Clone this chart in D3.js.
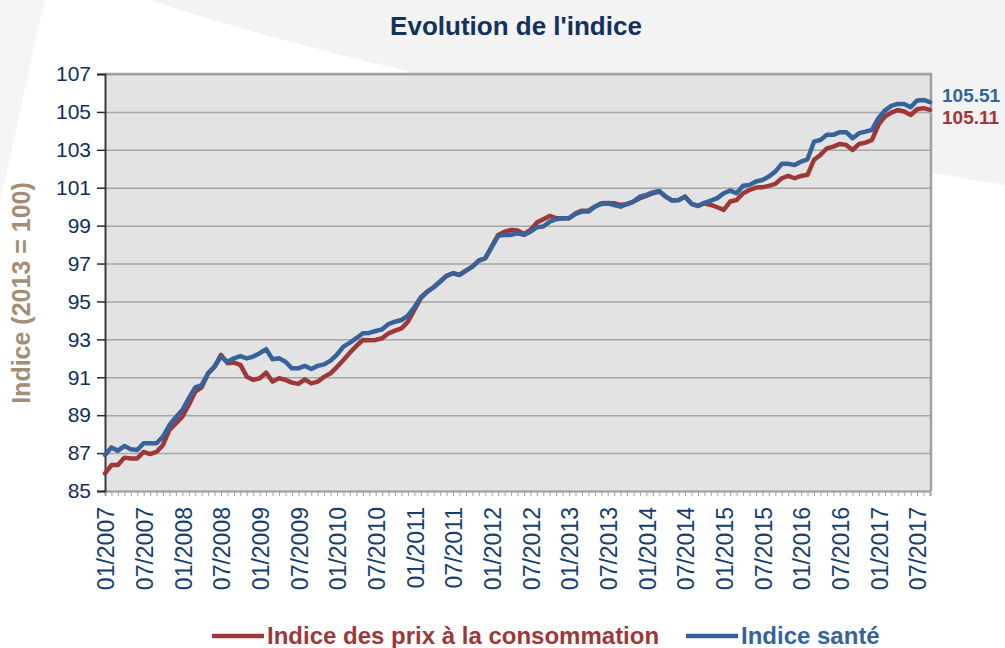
<!DOCTYPE html>
<html>
<head>
<meta charset="utf-8">
<script src="https://cdn.jsdelivr.net/npm/d3@7"></script>
<style>
  body { margin: 0; background: #ffffff; }
  svg { display: block; font-family: "Liberation Sans", Arial, sans-serif; }
</style>
</head>
<body>
<div id="chart"></div>
<script>
// données mensuelles 01/2007 -> 09/2017
const cpi = [85.93, 86.37, 86.37, 86.76, 86.72, 86.72, 87.06, 86.95, 87.06, 87.43, 88.22, 88.57,
  88.92, 89.54, 90.24, 90.47, 91.21, 91.56, 92.18, 91.74, 91.78, 91.65, 91.03, 90.86,
  90.95, 91.24, 90.77, 90.95, 90.86, 90.72, 90.65, 90.89, 90.68, 90.77, 91.02, 91.21,
  91.55, 91.91, 92.30, 92.65, 92.97, 92.95, 92.97, 93.06, 93.32, 93.46, 93.58, 93.93,
  94.55, 95.17, 95.52, 95.75, 96.05, 96.35, 96.49, 96.40, 96.63, 96.84, 97.15, 97.28,
  97.89, 98.51, 98.68, 98.77, 98.74, 98.56, 98.77, 99.16, 99.34, 99.51, 99.39, 99.39,
  99.39, 99.65, 99.79, 99.79, 100.00, 100.18, 100.20, 100.18, 100.09, 100.14, 100.27, 100.45,
  100.57, 100.71, 100.80, 100.53, 100.32, 100.35, 100.53, 100.15, 100.04, 100.18, 100.09, 99.97,
  99.83, 100.27, 100.35, 100.71, 100.88, 101.01, 101.02, 101.10, 101.20, 101.50, 101.62, 101.50,
  101.62, 101.68, 102.47, 102.73, 103.08, 103.17, 103.31, 103.26, 102.99, 103.31, 103.38, 103.52,
  104.31, 104.76, 104.96, 105.10, 105.02, 104.84, 105.14, 105.20, 105.11];

const sante = [86.90, 87.30, 87.13, 87.37, 87.20, 87.16, 87.52, 87.52, 87.52, 87.87, 88.48, 88.89,
  89.27, 89.89, 90.47, 90.59, 91.21, 91.56, 92.09, 91.82, 92.00, 92.12, 92.00, 92.09,
  92.27, 92.48, 91.95, 92.00, 91.82, 91.47, 91.47, 91.60, 91.44, 91.60, 91.68, 91.88,
  92.20, 92.62, 92.83, 93.06, 93.32, 93.34, 93.44, 93.53, 93.81, 93.93, 94.02, 94.25,
  94.69, 95.22, 95.52, 95.75, 96.05, 96.35, 96.49, 96.40, 96.63, 96.84, 97.15, 97.28,
  97.87, 98.46, 98.51, 98.51, 98.60, 98.51, 98.68, 98.91, 98.95, 99.21, 99.34, 99.39,
  99.39, 99.62, 99.74, 99.74, 100.00, 100.14, 100.18, 100.09, 100.00, 100.14, 100.27, 100.53,
  100.62, 100.75, 100.83, 100.53, 100.32, 100.35, 100.53, 100.15, 100.04, 100.20, 100.32, 100.45,
  100.71, 100.85, 100.71, 101.10, 101.15, 101.33, 101.41, 101.59, 101.85, 102.26, 102.26, 102.20,
  102.38, 102.50, 103.43, 103.52, 103.79, 103.79, 103.93, 103.93, 103.61, 103.88, 103.96, 104.05,
  104.67, 105.07, 105.32, 105.42, 105.42, 105.25, 105.60, 105.63, 105.51];

const xTickLabels = ["01/2007", "07/2007", "01/2008", "07/2008", "01/2009", "07/2009", "01/2010",
  "07/2010", "01/2011", "07/2011", "01/2012", "07/2012", "01/2013", "07/2013", "01/2014",
  "07/2014", "01/2015", "07/2015", "01/2016", "07/2016", "01/2017", "07/2017"];
const yTicks = [85, 87, 89, 91, 93, 95, 97, 99, 101, 103, 105, 107];
const seriesNames = ["Indice des prix à la consommation", "Indice santé"];

const W = 1005, H = 648;
const plot = { left: 105, right: 930, top: 74, bottom: 491 };
const red = "#9e3838", blue = "#36649a";

const svg = d3.select("#chart").append("svg").attr("width", W).attr("height", H);

// fond
svg.append("rect").attr("width", W).attr("height", H).attr("fill", "#ffffff");
svg.append("path")
  .attr("d", "M150,0 L1005,0 L1005,185 C800,150 420,90 150,0 Z")
  .attr("fill", "#f3f3f3");
svg.append("path")
  .attr("d", "M0,0 L45,0 C30,60 15,140 0,200 Z")
  .attr("fill", "#f5f5f5");

const x = d3.scaleLinear().domain([0, cpi.length - 1]).range([plot.left, plot.right]);
const y = d3.scaleLinear().domain([85, 107]).range([plot.bottom, plot.top]);

// zone du graphique
svg.append("rect")
  .attr("x", plot.left).attr("y", plot.top)
  .attr("width", plot.right - plot.left).attr("height", plot.bottom - plot.top)
  .attr("fill", "#e3e3e3");

// grille horizontale
svg.append("g")
  .attr("transform", `translate(${plot.left},0)`)
  .call(d3.axisLeft(y).tickValues(yTicks).tickSize(-(plot.right - plot.left)).tickFormat(""))
  .call(g => g.select(".domain").remove())
  .selectAll("line").attr("stroke", "#a6a6a6").attr("stroke-width", 1.5);

// bordure haut / droite
svg.append("path")
  .attr("d", `M${plot.left},${plot.top} H${plot.right + 1} V${plot.bottom}`)
  .attr("fill", "none").attr("stroke", "#a0a0a0").attr("stroke-width", 2.5);

// axe X : petites graduations mensuelles
svg.append("g")
  .attr("transform", `translate(0,${plot.bottom})`)
  .call(d3.axisBottom(x).tickValues(d3.range(0, cpi.length)).tickSize(5).tickFormat(""))
  .call(g => g.select(".domain").attr("stroke", "#a0a0a0").attr("stroke-width", 2))
  .selectAll("line").attr("stroke", "#a0a0a0");

// étiquettes X
svg.append("g")
  .selectAll("text")
  .data(xTickLabels)
  .enter()
  .append("text")
  .attr("transform", (d, i) => `translate(${x(i * 6) + 1},507) rotate(-90)`)
  .attr("text-anchor", "end")
  .attr("dy", "0.36em")
  .attr("font-size", 23)
  .attr("fill", "#163f6f")
  .text(d => d);

// axe Y
svg.append("g")
  .attr("transform", `translate(${plot.left},0)`)
  .call(d3.axisLeft(y).tickValues(yTicks).tickSize(8).tickPadding(6))
  .call(g => g.select(".domain").attr("stroke", "#3a3a3a").attr("stroke-width", 2))
  .call(g => g.selectAll("line").attr("stroke", "#2a2a2a").attr("stroke-width", 1.5))
  .call(g => g.selectAll("text").attr("font-size", 21).attr("fill", "#0f2f5c")
    .attr("font-family", "'Liberation Sans', Arial, sans-serif"));

// titre de l'axe Y
svg.append("text")
  .attr("transform", "translate(30,293) rotate(-90)")
  .attr("text-anchor", "middle")
  .attr("font-size", 25)
  .attr("font-weight", "bold")
  .attr("fill", "#a38e73")
  .text("Indice (2013 = 100)");

// titre
svg.append("text")
  .attr("x", 516).attr("y", 35)
  .attr("text-anchor", "middle")
  .attr("font-family", "'Liberation Sans Narrow', 'Arial Narrow', sans-serif")
  .attr("font-size", 26)
  .attr("font-weight", "bold")
  .attr("fill", "#12325e")
  .text("Evolution de l'indice");

// courbes
const line = d3.line().x((d, i) => x(i)).y(d => y(d));
[[cpi, red], [sante, blue]].forEach(([vals, col]) => {
  svg.append("path")
    .datum(vals)
    .attr("d", line)
    .attr("fill", "none")
    .attr("stroke", col)
    .attr("stroke-width", 4.5)
    .attr("stroke-linejoin", "round")
    .attr("stroke-linecap", "round");
});

// dernières valeurs
svg.append("text")
  .attr("x", 942).attr("y", 102)
  .attr("font-size", 19).attr("font-weight", "bold").attr("fill", blue)
  .text(d3.format(".2f")(sante[sante.length - 1]));
svg.append("text")
  .attr("x", 942).attr("y", 124)
  .attr("font-size", 19).attr("font-weight", "bold").attr("fill", red)
  .text(d3.format(".2f")(cpi[cpi.length - 1]));

// légende
const legend = [
  { name: seriesNames[0], color: red, x: 212 },
  { name: seriesNames[1], color: blue, x: 686 }
];
legend.forEach(l => {
  svg.append("line")
    .attr("x1", l.x).attr("x2", l.x + 52)
    .attr("y1", 636).attr("y2", 636)
    .attr("stroke", l.color).attr("stroke-width", 4.5);
  svg.append("text")
    .attr("x", l.x + 55).attr("y", 644)
    .attr("font-size", 24).attr("font-weight", "bold")
    .attr("fill", l.color)
    .text(l.name);
});
</script>
</body>
</html>
